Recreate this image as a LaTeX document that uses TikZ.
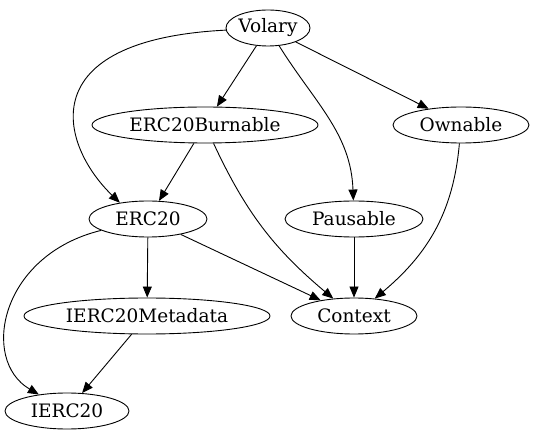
\documentclass[tikz,border=0pt]{standalone}
\usepackage{fontspec}
\setmainfont{DejaVu Serif}
\usetikzlibrary{shapes.geometric,arrows.meta}

\tikzset{
	contract/.style={draw, ellipse, inner sep=0pt, minimum height=36pt, font=\fontsize{18.5}{22}\selectfont},
	dep/.style={-{Triangle[length=11pt,width=9pt]}, line width=0.9pt},
}

\begin{document}
\begin{tikzpicture}[x=1pt, y=-1pt, line width=0.9pt]

	\useasboundingbox (0, 0) rectangle (535, 443);

	\node[contract, minimum width=84pt] (volary) at (268, 28) {Volary};
	\node[contract, minimum width=226pt] (burnable) at (205, 125) {ERC20Burnable};
	\node[contract, minimum width=136pt] (ownable) at (461, 125) {Ownable};
	\node[contract, minimum width=118pt] (erc20) at (148, 219) {ERC20};
	\node[contract, minimum width=138pt] (pausable) at (354, 219) {Pausable};
	\node[contract, minimum width=246pt] (metadata) at (147, 316) {IERC20Metadata};
	\node[contract, minimum width=126pt] (context) at (354, 316) {Context};
	\node[contract, minimum width=124pt] (ierc20) at (67, 411) {IERC20};

	% straight edges
	\draw[dep] (volary) -- (burnable);
	\draw[dep] (volary) -- (ownable);
	\draw[dep] (burnable) -- (erc20);
	\draw[dep] (pausable) -- (context);
	\draw[dep] (erc20) -- (context);
	\draw[dep] (erc20) -- (metadata);
	\draw[dep] (metadata) -- (ierc20);

	% curved edges
	\draw[dep] (volary) .. controls (30, 40) and (60, 145) .. (erc20.150);
	\draw[dep] (volary) to[out=-58, in=92] (pausable);
	\draw[dep] (burnable) to[out=-65, in=140] (context);
	\draw[dep] (ownable) to[out=-95, in=40] (context);
	\draw[dep] (erc20) .. controls (0, 255) and (-20, 360) .. (ierc20);
\end{tikzpicture}
\end{document}
